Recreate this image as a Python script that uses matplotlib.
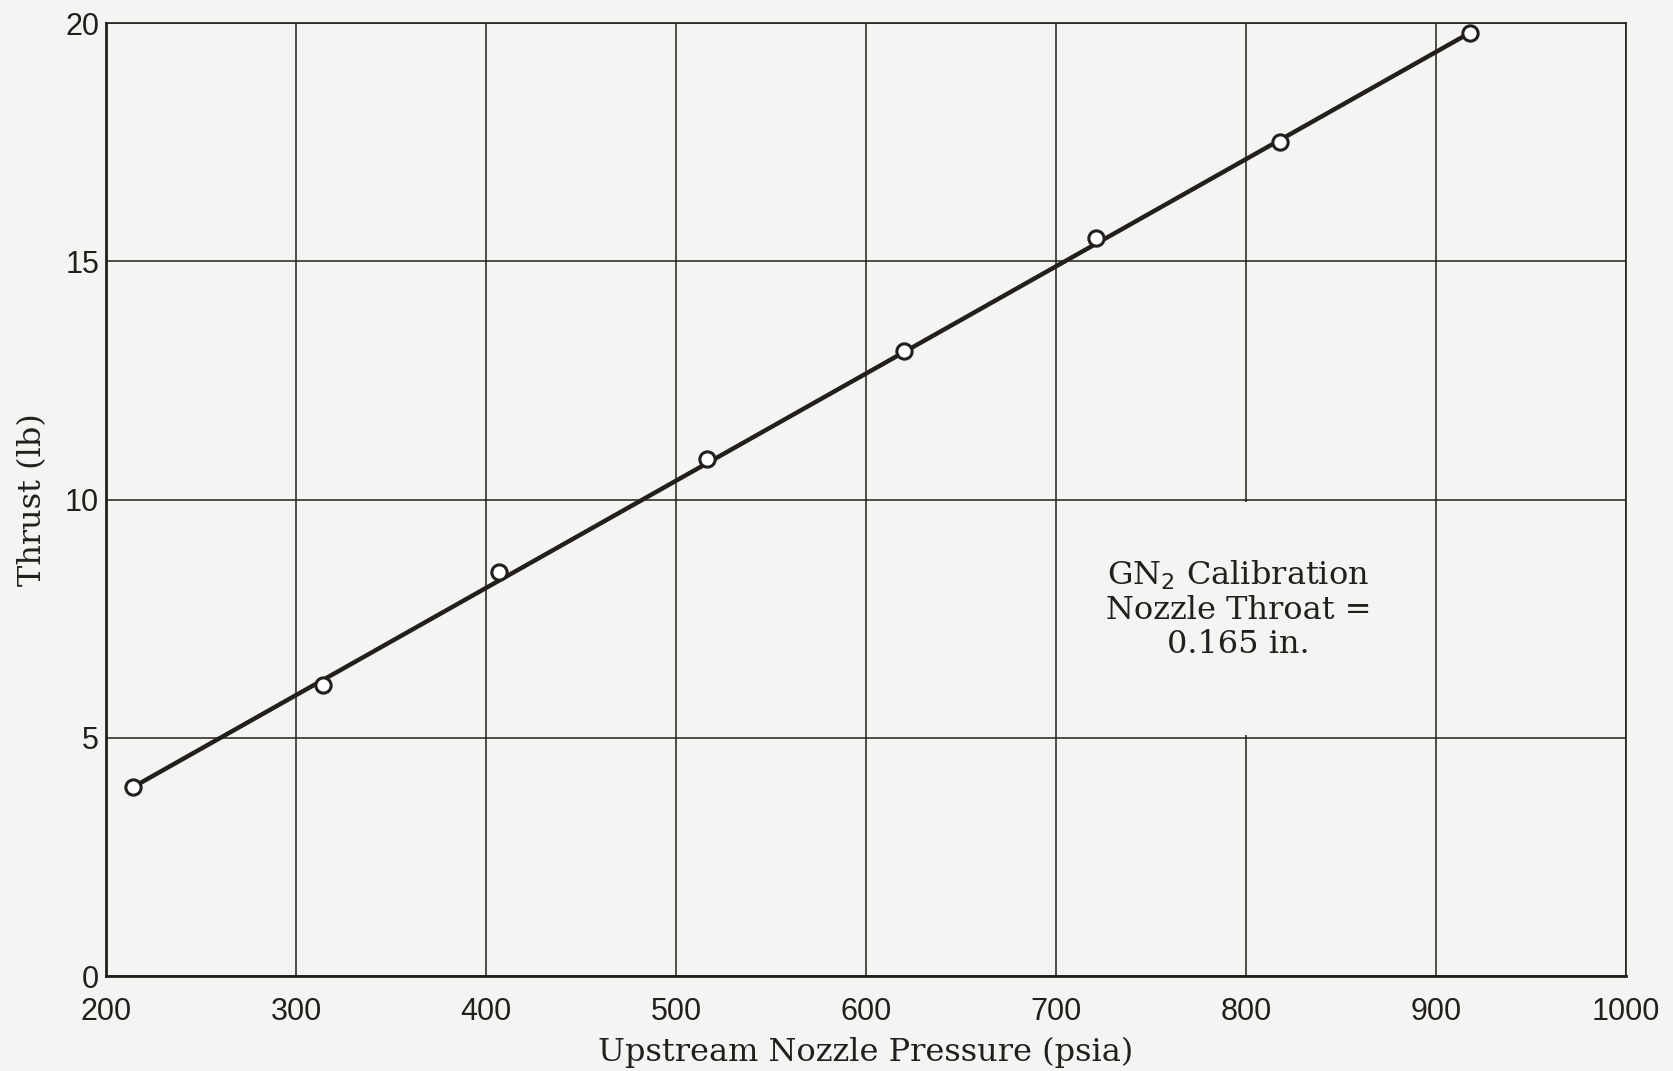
import numpy as np
import matplotlib
matplotlib.use("Agg")
import matplotlib.pyplot as plt
from matplotlib.patches import Rectangle

pressure = [214, 314, 407, 516, 620, 721, 818, 918]
thrust = [3.96, 6.11, 8.47, 10.84, 13.12, 15.48, 17.51, 19.80]

# retta tracciata a mano
fit_pressure = [214, 918]
fit_thrust = [3.96, 19.80]

x_ticks = [200, 300, 400, 500, 600, 700, 800, 900, 1000]
y_ticks = [0, 5, 10, 15, 20]

note = "GN$_2$ Calibration\nNozzle Throat =\n0.165 in."

ink = "#231f1d"
paper = "#f4f4f2"

fig = plt.figure(figsize=(16.73, 10.71), dpi=100, facecolor=paper)
ax = fig.add_axes([0.0634, 0.0887, 0.9086, 0.8898])
ax.set_facecolor(paper)

ax.plot(fit_pressure, fit_thrust, color=ink, lw=3.2, zorder=3)
ax.plot(pressure, thrust, 'o', ms=11, mfc="white", mec=ink, mew=2.2, zorder=4)

ax.set_xlim(200, 1000)
ax.set_ylim(0, 20)
ax.set_xticks(x_ticks)
ax.set_yticks(y_ticks)
ax.grid(True, color=ink, lw=1.1)
ax.tick_params(length=0, labelsize=22, colors=ink)
ax.tick_params(axis='x', pad=15)
ax.tick_params(axis='y', pad=5)
for lab in ax.get_xticklabels() + ax.get_yticklabels():
    lab.set_family(["Liberation Sans", "DejaVu Sans"])
for s in ax.spines.values():
    s.set_color(ink)
    s.set_linewidth(2.0)
ax.spines['right'].set_linewidth(1.2)
ax.spines['top'].set_linewidth(1.2)

ax.set_xlabel("Upstream Nozzle Pressure (psia)", family="DejaVu Serif",
              fontsize=23, color=ink, labelpad=7)
ax.set_ylabel("Thrust (lb)", family="DejaVu Serif", fontsize=23,
              color=ink, labelpad=12)

# zona bianca attorno alla nota (la griglia a 800 si interrompe)
ax.add_patch(Rectangle((760, 5.06), 80, 4.88, fc=paper, ec="none", zorder=2))
ax.text(796, 7.7, note, ha="center", va="center", family="DejaVu Serif",
        fontsize=23, color=ink, linespacing=1.12, zorder=5)

fig.savefig("out.png", dpi=100, facecolor=paper)
